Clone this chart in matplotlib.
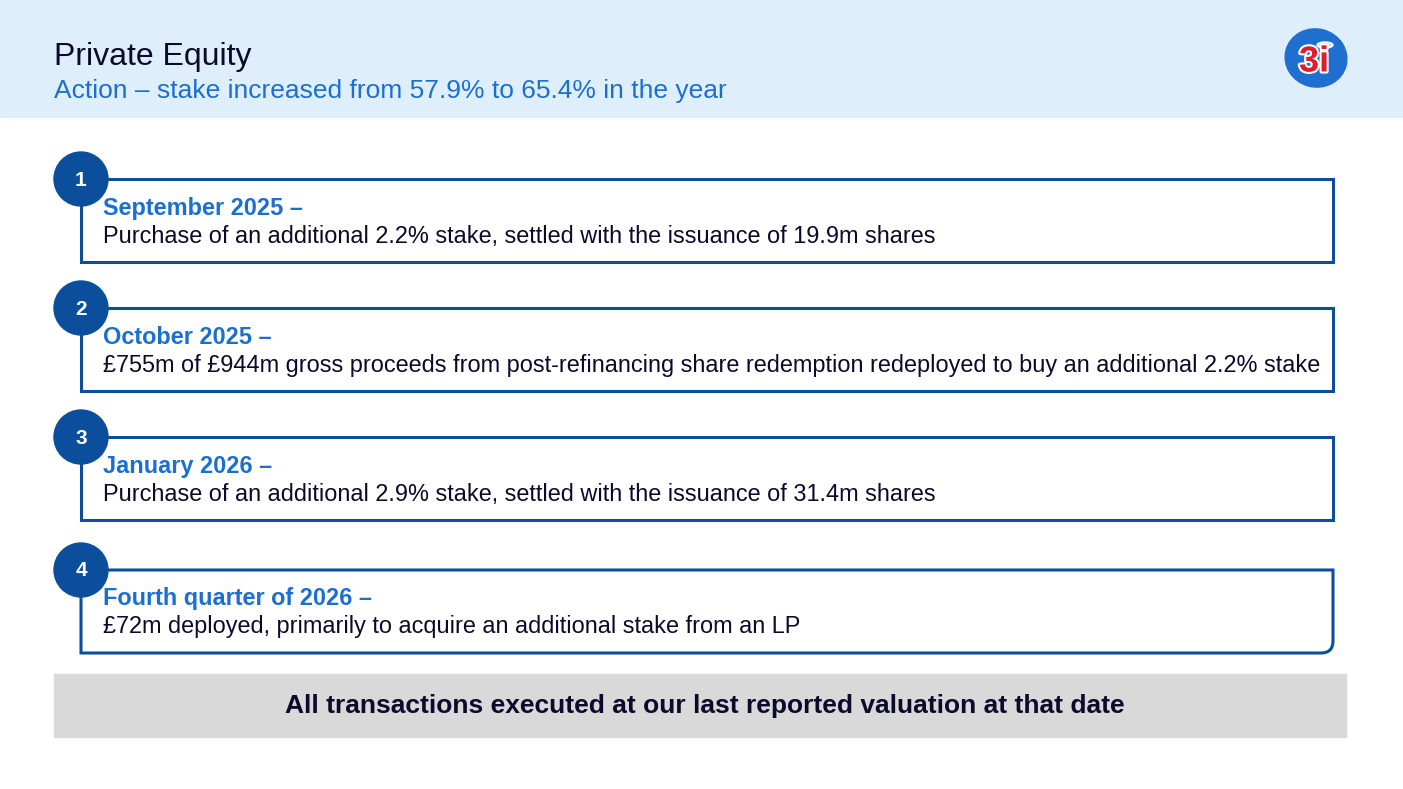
import matplotlib.pyplot as plt
import matplotlib.patheffects as pe
from matplotlib.patches import Rectangle, Circle, Ellipse, PathPatch
from matplotlib.path import Path

plt.rcParams['font.family'] = ['Liberation Sans', 'DejaVu Sans']

title = 'Private Equity'
subtitle = 'Action \u2013 stake increased from 57.9% to 65.4% in the year'
numbers = ['1', '2', '3', '4']
headings = ['September 2025 \u2013', 'October 2025 \u2013', 'January 2026 \u2013',
            'Fourth quarter of 2026 \u2013']
details = ['Purchase of an additional 2.2% stake, settled with the issuance of 19.9m shares',
           '\u00a3755m of \u00a3944m gross proceeds from post-refinancing share redemption redeployed to buy an additional 2.2% stake',
           'Purchase of an additional 2.9% stake, settled with the issuance of 31.4m shares',
           '\u00a372m deployed, primarily to acquire an additional stake from an LP']
footer = 'All transactions executed at our last reported valuation at that date'

box_tops = [179, 308, 437, 570]
box_h = 83
navy = '#0b4f9c'
blue = '#1a6fd1'
dark = '#0a0a2a'

fig = plt.figure(figsize=(14.03, 7.89), dpi=100)
ax = fig.add_axes([0, 0, 1, 1])
ax.set_xlim(0, 1403)
ax.set_ylim(789, 0)
ax.axis('off')

# header
ax.add_patch(Rectangle((0, 0), 1403, 117, color='#dfeefb', zorder=0))
ax.text(54, 57, title, fontsize=23, color=dark, va='center')
ax.text(54, 91, subtitle, fontsize=19, color=blue, va='center')

# logo
ax.add_patch(Ellipse((1316, 58), 62, 58, angle=15, color='#1f6fd0', zorder=2))
ax.add_patch(Ellipse((1325, 45), 16, 6, fc='#cfe3ff', ec='white', lw=1, zorder=3))
ax.text(1314, 62, '3i', fontsize=26, fontweight='bold', color='#e41b2b', ha='center', va='center',
        zorder=4, path_effects=[pe.withStroke(linewidth=3, foreground='white')])

for i, top in enumerate(box_tops):
    x0, x1, y0, y1 = 81, 1333, top, top + box_h
    if i == 3:
        r = 12
        verts = [(x0, y0), (x1, y0), (x1, y1 - r), (x1, y1), (x1 - r, y1), (x0, y1), (x0, y0)]
        codes = [Path.MOVETO, Path.LINETO, Path.LINETO, Path.CURVE3, Path.CURVE3, Path.LINETO, Path.CLOSEPOLY]
        ax.add_patch(PathPatch(Path(verts, codes), fc='white', ec=navy, lw=2.2, zorder=1))
    else:
        ax.add_patch(Rectangle((x0, y0), x1 - x0, box_h, fc='white', ec=navy, lw=2.2, zorder=1))
    ax.add_patch(Circle((81, top), 27, color=navy, zorder=2))
    ax.text(81, top + 1, numbers[i], fontsize=15, fontweight='bold', color='white',
            ha='center', va='center', zorder=3)
    ax.text(103, top + 29, headings[i], fontsize=16.9, fontweight='bold', color=blue,
            va='center', zorder=3)
    ax.text(103, top + 57, details[i], fontsize=16.9, color=dark, va='center', zorder=3)

# footer bar
ax.add_patch(Rectangle((54, 674), 1292, 63, color='#d9d9d9', zorder=1))
ax.text(705, 706, footer, fontsize=19, fontweight='bold', color=dark,
        ha='center', va='center', zorder=2)

fig.savefig('out.png', dpi=100)
